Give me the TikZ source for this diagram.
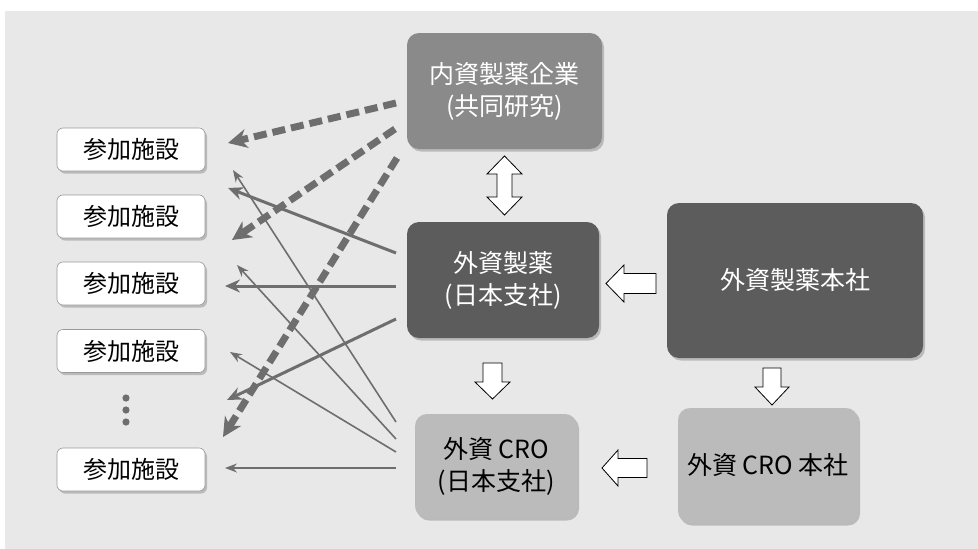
\documentclass[tikz,border=0pt]{standalone}
\usepackage{fontspec}
\setmainfont{Noto Sans CJK JP}
\usetikzlibrary{arrows.meta,shadows}
\definecolor{bgc}{HTML}{E8E8E8}
\definecolor{naic}{HTML}{8A8A8A}
\definecolor{darkc}{HTML}{5C5C5C}
\definecolor{croc}{HTML}{BBBBBB}
\definecolor{arrc}{HTML}{6E6E6E}
\tikzset{
  shad/.style={drop shadow={shadow xshift=2pt,shadow yshift=-2.5pt,opacity=0.35,fill=black!60}},
  site/.style={draw=black!40, line width=0.6pt, fill=white, rounded corners=6pt, minimum width=148pt, minimum height=43pt, inner sep=0pt, font=\fontsize{24}{28}\selectfont, shad},
  bigbox/.style={rounded corners=12pt, inner sep=0pt, align=center, font=\fontsize{25}{32}\selectfont, shad},
  dasharr/.style={arrc, line width=7pt, dash pattern=on 13pt off 6pt, -{Stealth[length=19pt,width=19pt,inset=6pt]}},
  thickarr/.style={arrc, line width=3pt, -{Stealth[length=15pt,width=13pt,inset=5pt]}},
  thinarr/.style={arrc, line width=1.6pt, -{Stealth[length=12pt,width=9pt,inset=4pt]}},
  blockarr/.style={draw=black, line width=0.8pt, fill=white},
}
\begin{document}
\begin{tikzpicture}[x=1pt,y=-1pt]
\useasboundingbox (0,0) rectangle (978,549);
\fill[bgc] (5,11) rectangle (978,549);

% left boxes
\node[site] (p1) at (131,149.5) {参加施設};
\node[site] (p2) at (131,216.5) {参加施設};
\node[site] (p3) at (131,283.5) {参加施設};
\node[site] (p4) at (131,351) {参加施設};
\node[site] (p5) at (131,469.5) {参加施設};
\fill[arrc] (126,398) circle (3.6pt) (126,410) circle (3.6pt) (126,422) circle (3.6pt);

% big boxes
\node[bigbox, fill=naic, text=white, minimum width=195pt, minimum height=116pt] (nai) at (504.5,91) {内資製薬企業\\(共同研究)};
\node[bigbox, fill=darkc, text=white, minimum width=192pt, minimum height=116pt] (gai) at (503,280) {外資製薬\\(日本支社)};
\node[bigbox, fill=darkc, text=white, minimum width=256pt, minimum height=155pt] (hon) at (795,280.5) {外資製薬本社};
\node[bigbox, fill=croc, text=black, minimum width=162pt, minimum height=104pt] (cro) at (496,466) {外資 CRO\\(日本支社)};
\node[bigbox, fill=croc, text=black, minimum width=180pt, minimum height=115pt] (crohon) at (768,465.5) {外資 CRO 本社};

% block arrows
\draw[blockarr] (504.5,156) -- (522,174) -- (512,174) -- (512,197) -- (522,197) -- (504.5,215) -- (487,197) -- (497,197) -- (497,174) -- (487,174) -- cycle;
\draw[blockarr] (606,283.5) -- (624,265) -- (624,273.5) -- (656,273.5) -- (656,293.5) -- (624,293.5) -- (624,302) -- cycle;
\draw[blockarr] (483,363) -- (502,363) -- (502,382) -- (510,382) -- (492.5,399) -- (475,382) -- (483,382) -- cycle;
\draw[blockarr] (602,468) -- (618,450) -- (618,458.5) -- (647,458.5) -- (647,477.5) -- (618,477.5) -- (618,486) -- cycle;
\draw[blockarr] (763,368) -- (781,368) -- (781,387) -- (789,387) -- (772,405) -- (755,387) -- (763,387) -- cycle;

% connector endpoints
\coordinate (s1) at (396,103);  \coordinate (t1) at (228,143);
\coordinate (s2) at (395,129);  \coordinate (t2) at (232,240);
\coordinate (s3) at (397,158);  \coordinate (t3) at (223,437);
\coordinate (s4) at (396,253);  \coordinate (t4) at (228,188);
\coordinate (s5) at (396,286);  \coordinate (t5) at (225,286);
\coordinate (s6) at (396,319);  \coordinate (t6) at (227,400);
\coordinate (s7) at (396,422);  \coordinate (t7) at (233,170);
\coordinate (s8) at (396,439);  \coordinate (t8) at (237,265);
\coordinate (s9) at (396,452);  \coordinate (t9) at (230,352);
\coordinate (s10) at (396,468); \coordinate (t10) at (225,468);

\draw[thinarr] (s7) -- (t7);
\draw[thinarr] (s8) -- (t8);
\draw[thinarr] (s9) -- (t9);
\draw[thinarr] (s10) -- (t10);
\draw[thickarr] (s4) -- (t4);
\draw[thickarr] (s5) -- (t5);
\draw[thickarr] (s6) -- (t6);
\draw[dasharr] (s1) -- (t1);
\draw[dasharr] (s2) -- (t2);
\draw[dasharr] (s3) -- (t3);
\end{tikzpicture}
\end{document}
